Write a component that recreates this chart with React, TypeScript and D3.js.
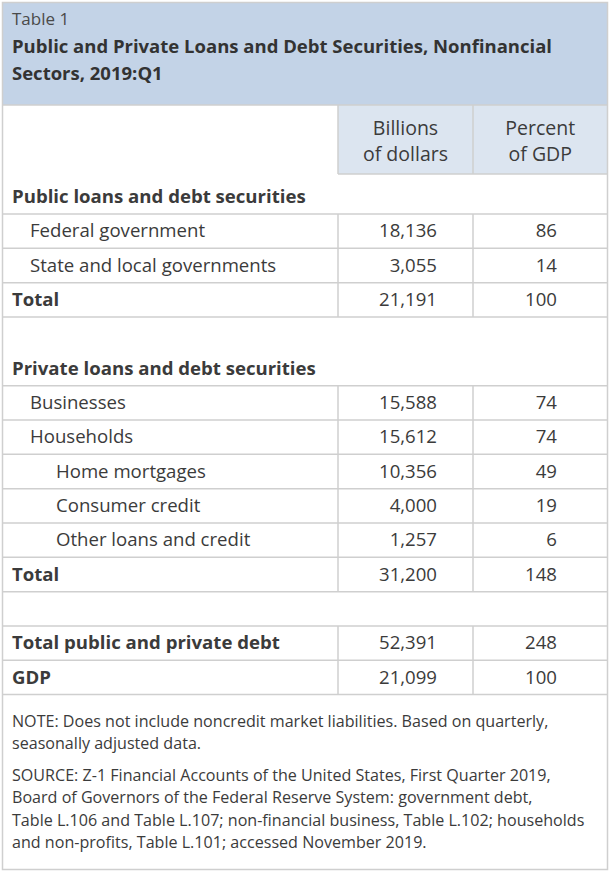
import React from "react";
import * as d3 from "d3";

const tableNumber = "Table 1";
const titleLines = [
  "Public and Private Loans and Debt Securities, Nonfinancial",
  "Sectors, 2019:Q1",
];
const columnHeaders = [
  ["Billions", "of dollars"],
  ["Percent", "of GDP"],
];
const rowLabels = [
  "Public loans and debt securities",
  "Federal government",
  "State and local governments",
  "Total",
  "",
  "Private loans and debt securities",
  "Businesses",
  "Households",
  "Home mortgages",
  "Consumer credit",
  "Other loans and credit",
  "Total",
  "",
  "Total public and private debt",
  "GDP",
];
// kind: head = section heading, l1/l2 = indented items, total = bold row with values, blank = spacer
const rowKinds = [
  "head", "l1", "l1", "total", "blank",
  "head", "l1", "l1", "l2", "l2", "l2", "total", "blank",
  "total", "total",
];
const billionsOfDollars: (number | null)[] = [
  null, 18136, 3055, 21191, null,
  null, 15588, 15612, 10356, 4000, 1257, 31200, null,
  52391, 21099,
];
const percentOfGDP: (number | null)[] = [
  null, 86, 14, 100, null,
  null, 74, 74, 49, 19, 6, 148, null,
  248, 100,
];
const noteLines = [
  "NOTE: Does not include noncredit market liabilities. Based on quarterly,",
  "seasonally adjusted data.",
];
const sourceLines = [
  "SOURCE: Z-1 Financial Accounts of the United States, First Quarter 2019,",
  "Board of Governors of the Federal Reserve System: government debt,",
  "Table L.106 and Table L.107; non-financial business, Table L.102; households",
  "and non-profits, Table L.101; accessed November 2019.",
];

const W = 613;
const H = 874;
const FONT = "'Open Sans', Lato, sans-serif";
const TEXT = "#3b3b3b";
const GRID = "#cfcfcf";
const TITLE_BG = "#c3d3e7";
const HEAD_BG = "#dce5f0";

export default function App() {
  const left = 2.5;
  const right = 607.5;
  const top = 2.5;
  const bottom = 869.5;
  const titleBottom = 105;
  const headerBottom = 174;
  const col1 = 338;
  const col2 = 473;
  const firstRowH = 40;
  const rowH = 34.33;

  // row tops via a linear scale on row index (first row taller)
  const yRow = d3
    .scaleLinear()
    .domain([1, rowLabels.length])
    .range([headerBottom + firstRowH, headerBottom + firstRowH + (rowLabels.length - 1) * rowH]);
  const rowTop = (i: number) => (i === 0 ? headerBottom : yRow(i));
  const rowBottom = (i: number) => (i === 0 ? headerBottom + firstRowH : yRow(i + 1));

  const fmt = d3.format(",");
  const xBill = 437;
  const xPct = 557;

  const indent: Record<string, number> = { head: 12, total: 12, l1: 30, l2: 56, blank: 12 };

  const hLines: number[] = [];
  const vSegs: { y1: number; y2: number }[] = [];
  rowLabels.forEach((_, i) => {
    const k = rowKinds[i];
    if (k === "blank") return;
    hLines.push(rowBottom(i));
    if (k !== "head") vSegs.push({ y1: rowTop(i), y2: rowBottom(i) });
    if (i > 0 && rowKinds[i - 1] === "blank" && k !== "head") hLines.push(rowTop(i));
  });

  const noteFont = 16.1;
  const noteY0 = 727;
  const noteStep = 22.3;
  const sourceY0 = 781;
  const rowFont = 18.6;

  return (
    <svg width={W} height={H} style={{ position: "absolute", left: 0, top: 0 }} fontFamily={FONT}>
      <rect x={0} y={0} width={W} height={H} fill="#ffffff" />
      <rect x={left} y={top} width={right - left} height={titleBottom - top} fill={TITLE_BG} />
      <rect x={col1} y={titleBottom} width={right - col1} height={headerBottom - titleBottom} fill={HEAD_BG} />
      <line x1={left} x2={right} y1={titleBottom} y2={titleBottom} stroke={GRID} strokeWidth={1.5} />
      <line x1={col1} x2={right} y1={headerBottom} y2={headerBottom} stroke={GRID} strokeWidth={1.5} />
      <line x1={col1} x2={col1} y1={titleBottom} y2={headerBottom} stroke={GRID} strokeWidth={1.5} />
      <line x1={col2} x2={col2} y1={titleBottom} y2={headerBottom} stroke={GRID} strokeWidth={1.5} />

      <text x={12} y={25} fontSize={17} fill="#4a4a4a">{tableNumber}</text>
      {titleLines.map((t, i) => (
        <text key={i} x={12} y={53 + i * 27} fontSize={18.5} fontWeight={700} fill="#333333">
          {t}
        </text>
      ))}

      {columnHeaders.map((lines, c) => {
        const cx = c === 0 ? (col1 + col2) / 2 : (col2 + right) / 2;
        return lines.map((t, j) => (
          <text key={`${c}-${j}`} x={cx} y={135 + j * 26} fontSize={19.5} textAnchor="middle" fill={TEXT}>
            {t}
          </text>
        ));
      })}

      {hLines.map((y, i) => (
        <line key={`h${i}`} x1={left} x2={right} y1={y} y2={y} stroke={GRID} strokeWidth={1.5} />
      ))}
      {vSegs.map((s, i) => (
        <g key={`v${i}`}>
          <line x1={col1} x2={col1} y1={s.y1} y2={s.y2} stroke={GRID} strokeWidth={1.5} />
          <line x1={col2} x2={col2} y1={s.y1} y2={s.y2} stroke={GRID} strokeWidth={1.5} />
        </g>
      ))}

      {rowLabels.map((label, i) => {
        const k = rowKinds[i];
        if (k === "blank") return null;
        const bold = k === "head" || k === "total";
        const yb = rowBottom(i) - 11;
        const b = billionsOfDollars[i];
        const p = percentOfGDP[i];
        return (
          <g key={`r${i}`} fill={TEXT} fontSize={rowFont}>
            <text x={indent[k]} y={yb} fontWeight={bold ? 700 : 400}>{label}</text>
            {b != null && <text x={xBill} y={yb} textAnchor="end">{fmt(b)}</text>}
            {p != null && <text x={xPct} y={yb} textAnchor="end">{fmt(p)}</text>}
          </g>
        );
      })}

      {noteLines.map((t, i) => (
        <text key={`n${i}`} x={12} y={noteY0 + i * noteStep} fontSize={noteFont} fill={TEXT}>{t}</text>
      ))}
      {sourceLines.map((t, i) => (
        <text key={`s${i}`} x={12} y={sourceY0 + i * noteStep} fontSize={noteFont} fill={TEXT}>{t}</text>
      ))}

      <rect x={left} y={top} width={right - left} height={bottom - top} fill="none" stroke={GRID} strokeWidth={1.5} />
    </svg>
  );
}
